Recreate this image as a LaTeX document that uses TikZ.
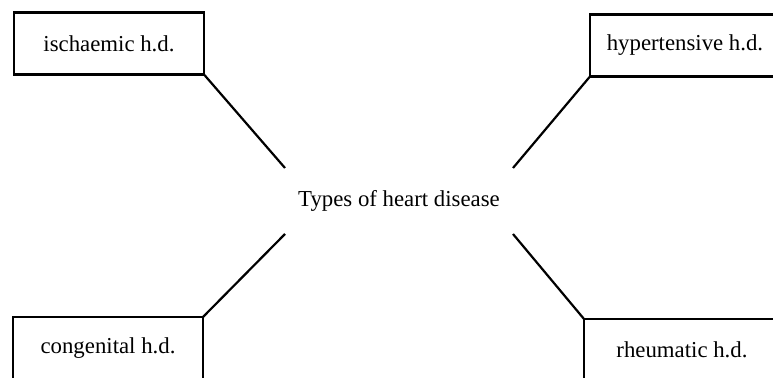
\documentclass[tikz,border=0pt]{standalone}
\usepackage{fontspec}
\setmainfont{Liberation Serif}
\usepackage{tikz}
\tikzset{
  kind/.style  = {draw, line width=1.1pt, outer sep=0pt, inner sep=0pt,
                  minimum width=95pt, minimum height=31pt, align=center},
  hub/.style   = {outer sep=0pt, inner sep=0pt,
                  minimum width=114pt, minimum height=33pt},
  spoke/.style = {line width=1.1pt},
}

\begin{document}
\begin{tikzpicture}[x=0.5pt, y=-0.5pt, font=\fontsize{11.4}{13}\selectfont]
\useasboundingbox (0,0) rectangle (773,378);
\clip (0,0) rectangle (773,378);

\node[hub] (centre) at (399,201) {Types of heart disease};

\node[kind] (isch) at (109,43.5) {ischaemic h.d.};
\node[kind, minimum width=100pt] (hyper) at (690,45.5) {\hspace*{-5pt}hypertensive h.d.};
\node[kind] (cong) at (108,348) {congenital h.d.};
\node[kind, minimum width=104pt] (rheum) at (688,350) {\hspace*{-6pt}rheumatic h.d.};

\draw[spoke] (isch.south east) -- (centre.north west);
\draw[spoke] (hyper.south west) -- (centre.north east);
\draw[spoke] (cong.north east) -- (centre.south west);
\draw[spoke] (rheum.north west) -- (centre.south east);
\end{tikzpicture}
\end{document}
